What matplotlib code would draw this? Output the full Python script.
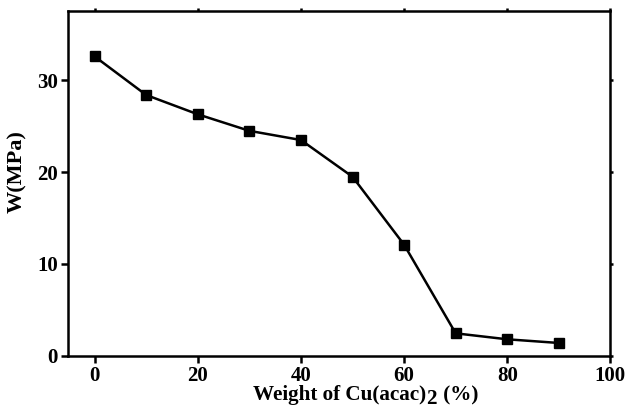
import matplotlib
matplotlib.use("Agg")
import matplotlib.pyplot as plt

plt.rcParams['font.family'] = 'Liberation Serif'
plt.rcParams['font.weight'] = 'bold'

weight = [0, 10, 20, 30, 40, 50, 60, 70, 80, 90]
w_mpa = [32.6, 28.4, 26.3, 24.5, 23.5, 19.5, 12.1, 2.45, 1.8, 1.4]
xticks = [0, 20, 40, 60, 80, 100]
yticks = [0, 10, 20, 30]

fig = plt.figure(figsize=(6.28, 4.09), dpi=100)
ax = fig.add_axes([0.108, 0.13, 0.864, 0.842])

ax.plot(weight, w_mpa, c='black', linewidth=1.8, marker='s', markersize=7)

ax.set_xlim(-5.2, 100)
ax.set_ylim(0, 37.5)
ax.set_xticks(xticks)
ax.set_yticks(yticks)
for s in ax.spines.values():
    s.set_linewidth(1.8)
ax.tick_params(axis='both', direction='out', length=5, width=1.8, labelsize=15, pad=2)
ax.tick_params(top=True, right=True, labeltop=False, labelright=False)
for t in ax.xaxis.get_ticklines()[1::2] + ax.yaxis.get_ticklines()[1::2]:
    t.set_markersize(2)

ax.text(-0.093, 0.535, "W(MPa)", transform=ax.transAxes, rotation=90,
        fontsize=16, fontweight='bold', ha='center', va='center')

# x label with a full size, lowered subscript
t1 = ax.text(0.342, -0.086, "Weight of Cu(acac)", transform=ax.transAxes,
             fontsize=15.2, fontweight='bold', ha='left', va='top')
ax.annotate("2", xy=(1, 0), xycoords=t1, xytext=(0, -2.5), textcoords='offset points',
            fontsize=15.2, fontweight='bold', ha='left', va='bottom')
ax.annotate(" (%)", xy=(1, 0), xycoords=t1, xytext=(8, 0), textcoords='offset points',
            fontsize=15.2, fontweight='bold', ha='left', va='bottom')

fig.savefig("out.png", dpi=100)
